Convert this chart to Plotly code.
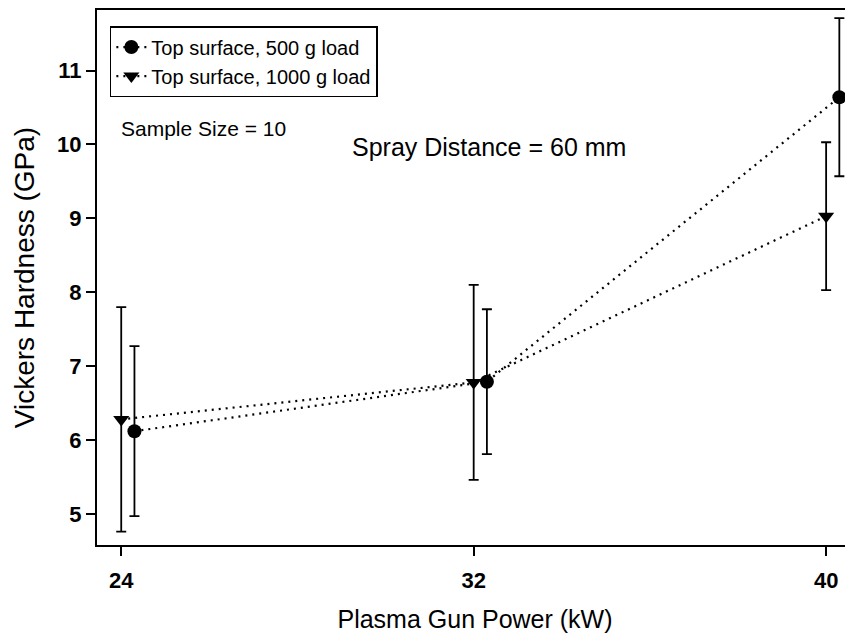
import plotly.graph_objects as go

power_kw = [24, 32, 40]
hardness_500g = [6.12, 6.79, 10.64]
err_500g = [1.15, 0.98, 1.07]
hardness_1000g = [6.28, 6.78, 9.03]
err_1000g = [1.52, 1.32, 1.00]

# the 500 g points are nudged right so the bars do not overlap
x_500g = [p + 0.3 for p in power_kw]

font = "Arial, Liberation Sans, sans-serif"

fig = go.Figure()
fig.add_trace(go.Scatter(
    x=x_500g, y=hardness_500g,
    name="Top surface, 500 g load",
    mode="lines+markers",
    line=dict(color="black", width=2.2, dash="2px,5px"),
    marker=dict(symbol="circle", size=14, color="black"),
    error_y=dict(type="data", array=err_500g, color="black", thickness=1.8, width=5),
))
fig.add_trace(go.Scatter(
    x=power_kw, y=hardness_1000g,
    name="Top surface, 1000 g load",
    mode="lines+markers",
    line=dict(color="black", width=2.2, dash="2px,5px"),
    marker=dict(symbol="triangle-down", size=14, color="black"),
    error_y=dict(type="data", array=err_1000g, color="black", thickness=1.8, width=5),
))

fig.add_annotation(
    x=0.029, y=0.779, xref="paper", yref="paper", xanchor="left", yanchor="middle",
    text="Sample Size = 10", showarrow=False, font=dict(size=21, color="black"),
)
fig.add_annotation(
    x=0.5185, y=0.744, xref="paper", yref="paper", xanchor="center", yanchor="middle",
    text="Spray Distance = 60 mm", showarrow=False, font=dict(size=25, color="black"),
)

# the page body adds an 8 px margin, so the figure is 8 px smaller than the window
fig.update_layout(
    width=845,
    height=627,
    margin=dict(l=89, r=0, t=2, b=90),
    paper_bgcolor="white",
    plot_bgcolor="white",
    font=dict(family=font, color="black"),
    showlegend=True,
    legend=dict(
        x=0.017, y=0.97, xanchor="left", yanchor="top",
        bordercolor="black", borderwidth=1.5, bgcolor="white",
        font=dict(size=20, color="black"),
    ),
)
fig.update_xaxes(
    range=[23.45, 40.61],
    tickvals=power_kw,
    ticks="outside", ticklen=9, tickwidth=1.5, tickcolor="black",
    tickfont=dict(size=22, weight="bold"), ticklabelstandoff=6,
    showline=True, linecolor="black", linewidth=2, mirror=True,
    showgrid=False, zeroline=False, automargin=False,
    title=dict(text="Plasma Gun Power (kW)", font=dict(size=25), standoff=18),
)
fig.update_yaxes(
    range=[4.58, 11.82],
    tickvals=[5, 6, 7, 8, 9, 10, 11],
    ticks="outside", ticklen=9, tickwidth=1.5, tickcolor="black",
    tickfont=dict(size=22, weight="bold"),
    showline=True, linecolor="black", linewidth=2, mirror=True,
    showgrid=False, zeroline=False, automargin=False,
    title=dict(text="Vickers Hardness (GPa)", font=dict(size=28), standoff=14),
)

fig.write_html("out.html")
